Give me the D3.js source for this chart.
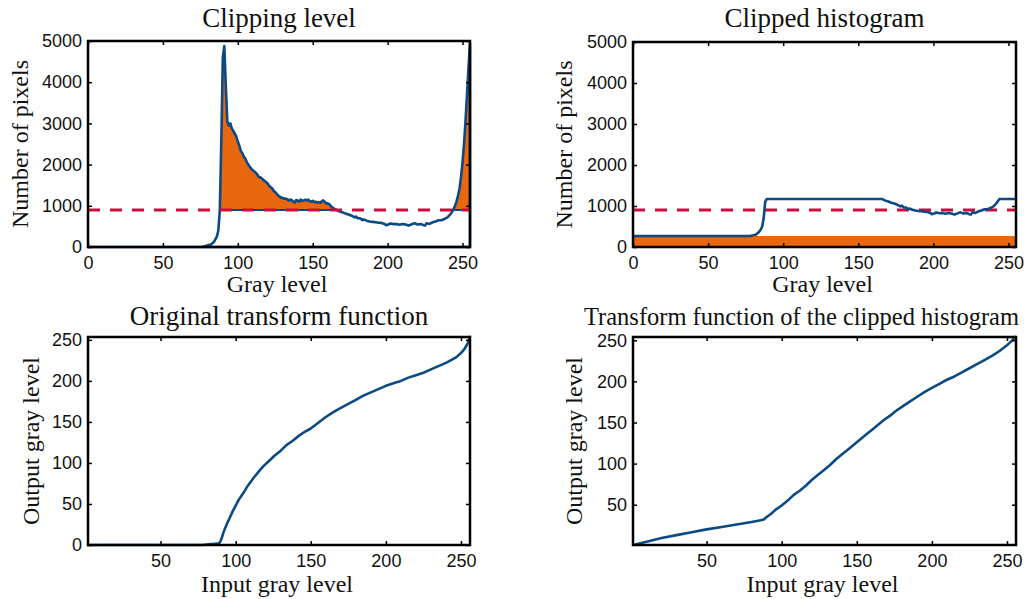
<!DOCTYPE html>
<html><head><meta charset="utf-8">
<script src="https://cdn.jsdelivr.net/npm/d3@7"></script>
<style>
html,body{margin:0;padding:0;background:#fff;overflow:hidden}
svg{display:block}
.serif{font-family:"Liberation Serif","DejaVu Serif",serif}
.sans{font-family:"Liberation Sans",Arial,sans-serif}
</style></head>
<body><svg id="c" width="1031" height="599"></svg>
<script>
// ---------------- DATA ----------------
const histGray  = [0,76,78,80,82,84,86,87,88,89,90,91,92,93,94,95,96,97,98,99,100,101,102,103,104,105,106,107,108,109,110,111,112,113,114,115,116,117,118,119,120,121,122,123,124,125,126,127,128,129,130,131,132,133,134,135,136,137,138,139,140,141,142,143,144,145,146,147,148,149,150,151,152,153,154,155,156,157,158,159,160,161,162,163,164,165,166,167,168,169,170,172,174,176,178,179,180,182,183,184,186,188,190,192,194,196,198,199,200,202,204,206,208,210,212,214,216,218,220,222,224,225,226,228,230,232,234,236,238,240,241,242,243,244,245,246,247,248,249,250,251,252,253,254,255];
const histCount = [0,0,20,40,60,120,250,400,900,2600,4600,4880,3900,3050,2950,3000,2880,2820,2750,2680,2560,2460,2330,2280,2190,2150,2060,2000,1950,1900,1860,1830,1800,1760,1700,1690,1660,1630,1600,1570,1540,1480,1450,1420,1360,1330,1290,1250,1220,1200,1190,1170,1175,1160,1120,1150,1140,1100,1080,1140,1130,1100,1150,1120,1130,1145,1130,1150,1110,1100,1120,1090,1100,1080,1090,1070,1110,1130,1100,1060,1060,1040,1000,960,940,920,900,880,860,850,840,810,790,760,720,740,700,690,650,670,640,620,610,600,590,585,560,530,540,570,555,560,540,560,545,520,550,575,545,560,530,520,575,560,600,620,650,650,680,720,760,800,850,920,1000,1100,1250,1420,1700,2050,2500,3050,3700,4350,4950];
const clipLevel = 900;

const clippedGray  = [0,78,80,82,84,85,86,87,88,89,166,167,168,169,170,172,174,176,178,179,180,182,183,184,186,188,190,192,194,196,198,199,200,202,204,206,208,210,212,214,216,218,220,222,224,225,226,228,230,232,234,236,238,240,241,242,243,244,255];
const clippedCount = [270,270,285,305,370,420,500,700,1100,1170,1170,1150,1130,1120,1110,1080,1060,1030,990,1010,970,960,920,940,910,890,880,870,860,855,830,800,810,840,825,830,810,830,815,790,820,845,815,830,800,790,845,830,870,890,920,920,950,990,1030,1070,1120,1170,1170];
const redistLevel = 270;

const transGray = [1,78,82,86,89,90,91,92,94,96,98,100,102,105,108,112,116,119,122,126,130,134,138,142,146,150,155,160,165,170,175,180,185,190,195,200,205,210,215,220,225,230,235,240,244,247,250,252,254,255,256];
const transOut  = [0,0,1,1.5,2,5,10,16,25,33,41,48,55,63,72,82,91,97,102,109,115,122,127,133,138,142,149,156,162,167,172,177,182,186,190,194,197,200,204,207,210,214,218,222,226,229,234,238,244,248,255];

const clipTransGray = [1,10,20,30,40,50,60,70,80,86,88,90,93,96,100,104,108,112,116,120,124,128,132,136,140,144,148,152,156,160,164,168,172,176,180,185,190,195,200,205,210,215,220,225,230,235,240,245,250,253,256];
const clipTransOut  = [1,5,9.5,13,16.5,20,23,26,29,31,32,35,39,44,49,55,62,67,73,80,86,92,98,105,111,117,123,129,135,141,147,153,158,164,169,175,181,187,192,197,202,206,211,216,221,226,231,237,244,249,255];

const histXTicks = [0,50,100,150,200,250];
const histYTicks = [0,1000,2000,3000,4000,5000];
const transXTicks = [50,100,150,200,250];
const transYTicksA = [0,50,100,150,200,250];
const transYTicksB = [50,100,150,200,250];

const titles = ["Clipping level","Clipped histogram","Original transform function","Transform function of the clipped histogram"];
const xLabels = ["Gray level","Gray level","Input gray level","Input gray level"];
const yLabels = ["Number of pixels","Number of pixels","Output gray level","Output gray level"];

// ---------------- STYLE ----------------
const BLUE = "#0b4a84", ORANGE = "#e8670f", RED = "#cc0c3e";
const W = 1031;

const svg = d3.select("#c");

function panel(cfg) {
  const g = svg.append("g");
  const x = d3.scaleLinear().domain(cfg.xDomain).range([cfg.L, cfg.R]);
  const y = d3.scaleLinear().domain(cfg.yDomain).range([cfg.B, cfg.T]);
  const plot = g.append("g");
  const ax = g.append("g");
  const fmt = d3.format("d");
  ax.append("g").attr("transform", `translate(0,${cfg.B})`)
    .call(d3.axisBottom(x).tickValues(cfg.xTicks).tickFormat(fmt).tickSizeInner(-4).tickSizeOuter(0).tickPadding(9))
    .call(s => s.select(".domain").remove());
  ax.append("g").attr("transform", `translate(0,${cfg.T})`)
    .call(d3.axisTop(x).tickValues(cfg.xTicks).tickSizeInner(-4).tickSizeOuter(0).tickFormat(""))
    .call(s => s.select(".domain").remove());
  ax.append("g").attr("transform", `translate(${cfg.L},0)`)
    .call(d3.axisLeft(y).tickValues(cfg.yTicks).tickFormat(fmt).tickSizeInner(-4).tickSizeOuter(0).tickPadding(6))
    .call(s => s.select(".domain").remove());
  ax.append("g").attr("transform", `translate(${cfg.R},0)`)
    .call(d3.axisRight(y).tickValues(cfg.yTicks).tickSizeInner(-4).tickSizeOuter(0).tickFormat(""))
    .call(s => s.select(".domain").remove());
  ax.selectAll("g").attr("font-family", null).attr("font-size", null);
  ax.selectAll(".tick line").attr("stroke", "#000").attr("stroke-width", 1.5);
  ax.selectAll(".tick text").attr("class", "sans").style("font-size", "18px").attr("fill", "#111");
  g.append("rect").attr("x", cfg.L).attr("y", cfg.T).attr("width", cfg.R - cfg.L).attr("height", cfg.B - cfg.T)
    .attr("fill", "none").attr("stroke", "#000").attr("stroke-width", 2.5);
  const cx = (cfg.L + cfg.R) / 2;
  const t = g.append("text").attr("class", "serif").attr("x", cx).attr("y", cfg.titleY).attr("text-anchor", "middle")
    .style("font-size", "27px").attr("fill", "#111").text(cfg.title);
  // keep the title inside the picture if it is too long
  const tl = t.node().getComputedTextLength();
  if (cx + tl / 2 > W - 8) {
    t.style("font-size", "25px").attr("text-anchor", "start").attr("x", cfg.titleStart)
     .attr("textLength", W - 12 - cfg.titleStart).attr("lengthAdjust", "spacingAndGlyphs");
  }
  g.append("text").attr("class", "serif").attr("x", cx - 2).attr("y", cfg.xlabelY).attr("text-anchor", "middle")
    .style("font-size", "24px").attr("fill", "#111").text(cfg.xlabel);
  g.append("text").attr("class", "serif").attr("transform", `translate(${cfg.ylabelX},${(cfg.T + cfg.B) / 2}) rotate(-90)`)
    .attr("text-anchor", "middle").style("font-size", "24px").attr("fill", "#111").text(cfg.ylabel);
  return {g: plot, x, y};
}

// ---- Panel 1: Clipping level ----
{
  const p = panel({L: 88, R: 470, T: 41, B: 247, xDomain: [0, 255], yDomain: [0, 5000],
    xTicks: histXTicks, yTicks: histYTicks, title: titles[0], xlabel: xLabels[0], ylabel: yLabels[0],
    titleY: 27, xlabelY: 292, ylabelX: 28});
  const data = histGray.map((g, i) => ({g, v: histCount[i]}));
  p.g.append("path").datum(data)
    .attr("d", d3.area().x(d => p.x(d.g)).y0(p.y(clipLevel)).y1(d => p.y(Math.max(d.v, clipLevel))))
    .attr("fill", ORANGE);
  const pts = data.map(d => [p.x(d.g), p.y(d.v)]);
  pts.push([p.x(histGray[histGray.length - 1]), p.y(0)]);
  pts.push([p.x(histGray[0]), p.y(0)]);
  p.g.append("path").attr("d", d3.line()(pts) + "Z")
    .attr("fill", "none").attr("stroke", BLUE).attr("stroke-width", 2.6).attr("stroke-linejoin", "round");
  p.g.append("path").datum(data)
    .attr("d", d3.line().defined(d => d.v >= clipLevel).x(d => p.x(d.g)).y(p.y(clipLevel)))
    .attr("fill", "none").attr("stroke", BLUE).attr("stroke-width", 2);
  p.g.append("line").attr("x1", p.x(0)).attr("x2", p.x(255)).attr("y1", p.y(clipLevel)).attr("y2", p.y(clipLevel))
    .attr("stroke", RED).attr("stroke-width", 3).attr("stroke-dasharray", "12,10");
}

// ---- Panel 2: Clipped histogram ----
{
  const p = panel({L: 633, R: 1016, T: 42, B: 247, xDomain: [0, 255], yDomain: [0, 5000],
    xTicks: histXTicks, yTicks: histYTicks, title: titles[1], xlabel: xLabels[1], ylabel: yLabels[1],
    titleY: 27, xlabelY: 292, ylabelX: 572});
  p.g.append("path").datum([0, 255])
    .attr("d", d3.area().x(d => p.x(d)).y0(p.y(0)).y1(p.y(redistLevel)))
    .attr("fill", ORANGE);
  p.g.append("line").attr("x1", p.x(0)).attr("x2", p.x(255)).attr("y1", p.y(clipLevel)).attr("y2", p.y(clipLevel))
    .attr("stroke", RED).attr("stroke-width", 3).attr("stroke-dasharray", "12,10");
  const data = clippedGray.map((g, i) => ({g, v: clippedCount[i]}));
  p.g.append("path").datum(data)
    .attr("d", d3.line().x(d => p.x(d.g)).y(d => p.y(d.v)))
    .attr("fill", "none").attr("stroke", BLUE).attr("stroke-width", 2.6).attr("stroke-linejoin", "round");
}

// ---- Panel 3: Original transform function ----
{
  const p = panel({L: 88, R: 470, T: 337, B: 545, xDomain: [1.7, 256], yDomain: [0, 253.5],
    xTicks: transXTicks, yTicks: transYTicksA, title: titles[2], xlabel: xLabels[2], ylabel: yLabels[2],
    titleY: 325, xlabelY: 592, ylabelX: 39});
  const data = transGray.map((g, i) => ({g, v: transOut[i]}));
  p.g.append("path").datum(data)
    .attr("d", d3.line().x(d => p.x(d.g)).y(d => p.y(d.v)))
    .attr("fill", "none").attr("stroke", BLUE).attr("stroke-width", 2.6).attr("stroke-linejoin", "round");
}

// ---- Panel 4: Transform function of the clipped histogram ----
{
  const p = panel({L: 633, R: 1016, T: 337, B: 545, xDomain: [1, 256], yDomain: [1, 254],
    xTicks: transXTicks, yTicks: transYTicksB, title: titles[3], xlabel: xLabels[3], ylabel: yLabels[3],
    titleY: 325, xlabelY: 592, ylabelX: 582, titleStart: 584});
  const data = clipTransGray.map((g, i) => ({g, v: clipTransOut[i]}));
  p.g.append("path").datum(data)
    .attr("d", d3.line().x(d => p.x(d.g)).y(d => p.y(d.v)))
    .attr("fill", "none").attr("stroke", BLUE).attr("stroke-width", 2.6).attr("stroke-linejoin", "round");
}
</script>
</body></html>
